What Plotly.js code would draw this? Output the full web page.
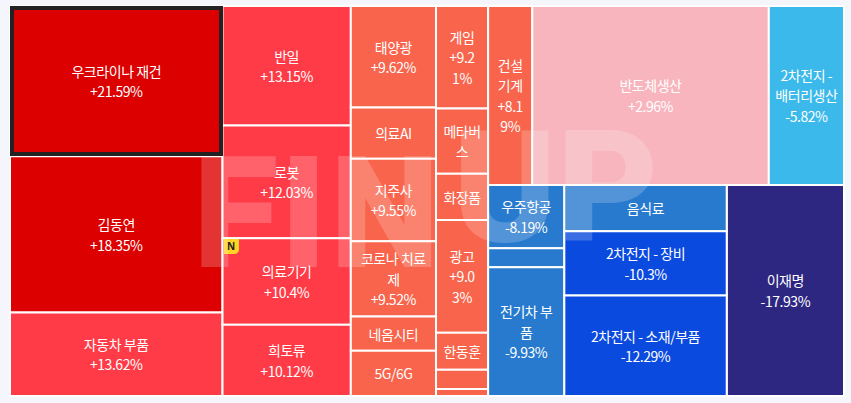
<!DOCTYPE html>
<html><head><meta charset="utf-8">
<script src="https://cdn.plot.ly/plotly-3.0.1.min.js"></script>
<style>html,body{margin:0;padding:0;background:#F4F6FB}#c{width:851px;height:403px}</style>
</head><body><div id="c"></div>
<script>
const RED0='#DC0000',RED='#FF3B47',ORG='#F9644C',PNK='#F8B5BD',SKY='#3BB9EA',MID='#277ACD',STR='#0B4ADF',NVY='#2D2782';
// groups (hidden layout nodes of the treemap)
const groupIds=['root','c1','c2','c3','c4','rest','top','bottom','bA','bB'];
const groupParents=['','root','root','root','root','root','rest','rest','bottom','bottom'];
// tiles
const ids=['t1','t2','t3','t4','t5','t6','t7','t8','t9','t10','t11','t12','t13','t14','t15','t16','t17','t18','t19','t20','t21','t22','t23','t24','t25','t26','t27','t28','t29','t30'];
const parents=['c1','c1','c1','c2','c2','c2','c2','c3','c3','c3','c3','c3','c3','c4','c4','c4','c4','c4','c4','c4','top','top','top','bA','bA','bA','bB','bB','bB','bottom'];
const names=['우크라이나 재건','김동연','자동차 부품','반일','로봇','의료기기','희토류','태양광','의료AI','지주사','코로나 치료<br>제','네옴시티','5G/6G','게임','메타버<br>스','화장품','광고','한동훈','','','건설<br>기계','반도체생산','2차전지 -<br>배터리생산','우주항공','','전기차 부<br>품','음식료','2차전지 - 장비','2차전지 - 소재/부품','이재명'];
const changes=['+21.59%','+18.35%','+13.62%','+13.15%','+12.03%','+10.4%','+10.12%','+9.62%','','+9.55%','+9.52%','','','+9.2<br>1%','','','+9.0<br>3%','','','','+8.1<br>9%','+2.96%','-5.82%','-8.19%','','-9.93%','','-10.3%','-12.29%','-17.93%'];
const sizes=[31694,32966,17596,15232,14336,11008,9088,8585,4335,6970,6375,2890,3825,5304,3380,2392,5824,1924,988,364,7832,42008,13350,4788,1444,9728,7452,10368,16200,24570];
const colors=[RED0,RED0,RED,RED,RED,RED,RED,ORG,ORG,ORG,ORG,ORG,ORG,ORG,ORG,ORG,ORG,ORG,ORG,ORG,ORG,PNK,SKY,MID,MID,MID,MID,STR,STR,NVY];
const watermarkLetters=['F','I','N','U','P'];
const texts=names.map((n,i)=>n&&changes[i]?n+'<br>'+changes[i]:(n||changes[i]));
const W=851,H=403;
const px=v=>v/W, py=v=>1-v/H;
const wmX=[235,303,385,505,608], wmY=[213,213,213,188,188];
const wmFont={family:'Roboto,"Liberation Sans",sans-serif',size:156,color:'rgba(255,255,255,0.2)',weight:900};
Plotly.newPlot('c',[{
  type:'treemap',
  ids:groupIds.concat(ids),
  labels:groupIds.map(()=>'').concat(ids),
  parents:groupParents.concat(parents),
  values:groupIds.map(()=>0).concat(sizes),
  branchvalues:'remainder',
  sort:false,
  text:groupIds.map(()=>'').concat(texts),
  textinfo:'text',
  textposition:'middle center',
  hoverinfo:'text',
  tiling:{packing:'slice-dice',pad:0},
  pathbar:{visible:false},
  leaf:{opacity:1},
  domain:{x:[px(10),px(844)],y:[py(396),py(6)]},
  marker:{colors:groupIds.map(()=>'#FFFFFF').concat(colors),line:{color:'#FFFFFF',width:2},pad:{t:0,l:0,r:0,b:0},depthfade:false},
  textfont:{family:'"Noto Sans CJK KR",sans-serif',size:14,color:'#FFFFFF'},
  insidetextfont:{family:'"Noto Sans CJK KR",sans-serif',size:14,color:'#FFFFFF'}
}],{
  width:W,height:H,margin:{l:0,r:0,t:0,b:0},
  paper_bgcolor:'#F4F6FB',
  uniformtext:{minsize:14,mode:'show'},
  showlegend:false,
  shapes:[
   {type:'rect',xref:'paper',yref:'paper',x0:px(12),x1:px(221),y0:py(8),y1:py(154),line:{color:'#222222',width:4},layer:'above'},
   {type:'path',xref:'paper',yref:'paper',layer:'above',fillcolor:'#FFD427',line:{width:0},
    path:`M ${px(224)} ${py(239)} L ${px(239)} ${py(239)} L ${px(239)} ${py(249)} Q ${px(239)} ${py(254)} ${px(234)} ${py(254)} L ${px(224)} ${py(254)} Z`}
  ],
  annotations:watermarkLetters.map((t,i)=>({text:t,xref:'paper',yref:'paper',x:px(wmX[i]),y:py(wmY[i]),xanchor:'center',yanchor:'middle',showarrow:false,font:wmFont})).concat([
   {text:'N',xref:'paper',yref:'paper',x:px(231),y:py(246),xanchor:'center',yanchor:'middle',showarrow:false,font:{family:'"Noto Sans",sans-serif',size:10,color:'#222222',weight:700}}
  ])
},{displayModeBar:false}).then(gd=>{
  // line spacing and tracking of tile labels, as in the reference
  gd.querySelectorAll('g.slicetext text').forEach(t=>{
    t.style.letterSpacing='-0.45px';
    const lines=t.querySelectorAll('tspan.line');
    const n=lines.length;
    lines.forEach((l,i)=>l.setAttribute('dy',(i*1.46-(n-1)*0.08)+'em'));
  });
});
</script></body></html>
